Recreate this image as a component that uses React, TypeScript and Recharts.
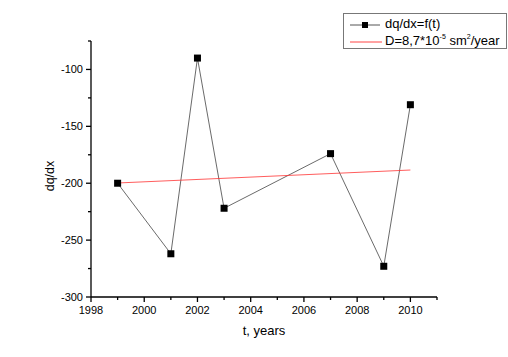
import { Line, LineChart, XAxis, YAxis } from "recharts";

const years = [1999, 2001, 2002, 2003, 2007, 2009, 2010];
const dqdx = [-200, -262, -90, -222, -174, -273, -131];
const fitYears = [1999, 2010];
const fitValues = [-199.8, -188.4];

const xTicks = [1998, 1999, 2000, 2001, 2002, 2003, 2004, 2005, 2006, 2007, 2008, 2009, 2010, 2011];
const yTicks = [-300, -275, -250, -225, -200, -175, -150, -125, -100, -75];

const data = years.map((t, i) => ({ t, q: dqdx[i] }));
const fitData = fitYears.map((t, i) => ({ t, fit: fitValues[i] }));

const font = "'Liberation Sans', Arial, sans-serif";

function XTick({ x, y, payload }: any) {
  const major = payload.value % 2 === 0;
  return (
    <g>
      <line x1={x} x2={x} y1={y} y2={y + (major ? 5 : 3)} stroke="#000" strokeWidth={1.3} />
      {major && (
        <text x={x} y={y + 17} textAnchor="middle" fontSize={11} fontFamily={font} fill="#000">
          {payload.value}
        </text>
      )}
    </g>
  );
}

function YTick({ x, y, payload }: any) {
  const major = payload.value % 50 === 0;
  return (
    <g>
      <line x1={x} x2={x - (major ? 5 : 3)} y1={y} y2={y} stroke="#000" strokeWidth={1.3} />
      {major && (
        <text x={x - 8} y={y + 4} textAnchor="end" fontSize={11} fontFamily={font} fill="#000">
          {payload.value}
        </text>
      )}
    </g>
  );
}

function Square({ cx, cy }: any) {
  return <rect x={cx - 3.5} y={cy - 3.5} width={7} height={7} fill="#000" />;
}

function XLabel() {
  return (
    <text x={264} y={335} textAnchor="middle" fontSize={13} fontFamily={font} fill="#000">
      t, years
    </text>
  );
}

function YLabel() {
  return (
    <text
      x={50}
      y={176}
      transform="rotate(-90 50 176)"
      textAnchor="middle"
      dominantBaseline="central"
      fontSize={12.5}
      fontFamily={font}
      fill="#000"
    >
      dq/dx
    </text>
  );
}

function LegendBox() {
  return (
    <div
      style={{
        position: "absolute",
        left: 343,
        top: 13,
        border: "1px solid #777",
        width: 164,
        height: 36,
        fontFamily: font,
        fontSize: 13,
        color: "#000",
        background: "#fff",
        boxSizing: "border-box",
      }}
    >
      <svg width={40} height={34} style={{ position: "absolute", left: 0, top: 0 }}>
        <line x1={6} x2={36} y1={11} y2={11} stroke="#555" />
        <rect x={18} y={8} width={6} height={6} fill="#000" />
        <line x1={6} x2={38} y1={28} y2={28} stroke="#f44" />
      </svg>
      <div style={{ position: "absolute", left: 41, top: 2, whiteSpace: "nowrap" }}>dq/dx=f(t)</div>
      <div style={{ position: "absolute", left: 41, top: 19, whiteSpace: "nowrap" }}>
        D=8,7*10<sup style={{ fontSize: 7, verticalAlign: 6, lineHeight: 0 }}>-5</sup> sm
        <sup style={{ fontSize: 7, verticalAlign: 6, lineHeight: 0 }}>2</sup>/year
      </div>
    </div>
  );
}

export default function App() {
  return (
    <div style={{ position: "absolute", left: 0, top: 0, width: 508, height: 357, background: "#fff" }}>
      <LineChart width={508} height={357} margin={{ top: 41, right: 71, bottom: 30, left: 31 }}>
        <XAxis
          dataKey="t"
          type="number"
          domain={[1998, 2011]}
          ticks={xTicks}
          interval={0}
          allowDuplicatedCategory={false}
          axisLine={{ stroke: "#000", strokeWidth: 1.3 }}
          tickLine={false}
          tickSize={0}
          tickMargin={0}
          tick={<XTick />}
          height={30}
          label={<XLabel />}
        />
        <YAxis
          type="number"
          domain={[-300, -75]}
          ticks={yTicks}
          interval={0}
          axisLine={{ stroke: "#000", strokeWidth: 1.3 }}
          tickLine={false}
          tickSize={0}
          tickMargin={0}
          tick={<YTick />}
          width={60}
          label={<YLabel />}
        />
        <Line
          data={data}
          dataKey="q"
          stroke="#444"
          strokeWidth={0.8}
          dot={<Square />}
          activeDot={false}
          isAnimationActive={false}
        />
        <Line
          data={fitData}
          dataKey="fit"
          stroke="#f33"
          strokeWidth={0.8}
          dot={false}
          activeDot={false}
          isAnimationActive={false}
        />
      </LineChart>
      <LegendBox />
    </div>
  );
}
